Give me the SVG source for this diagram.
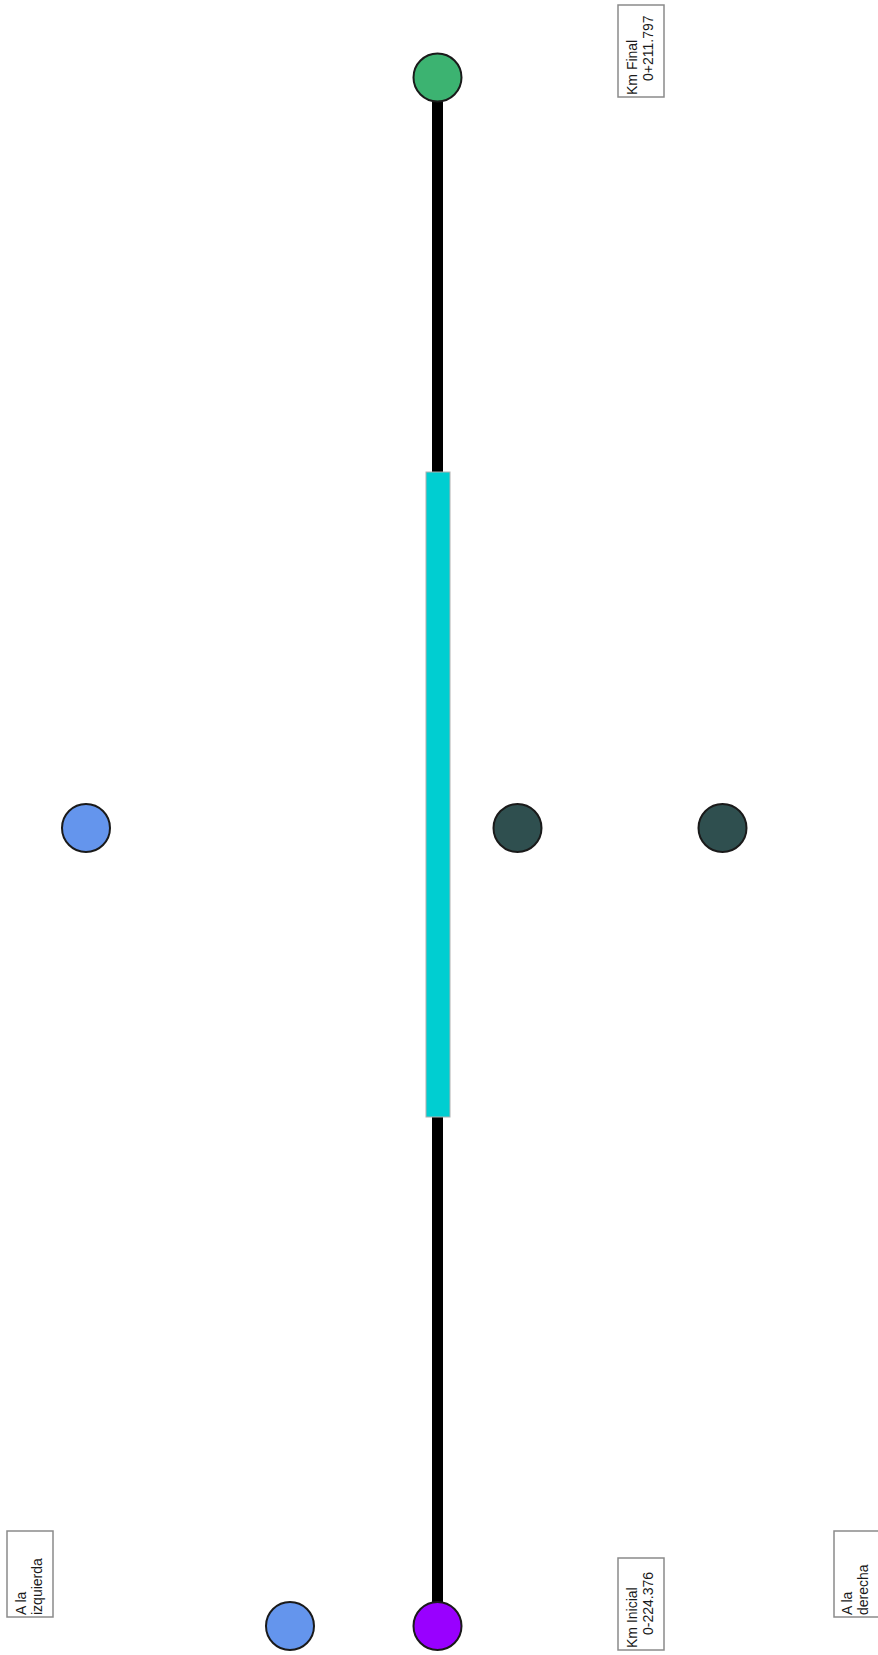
<svg xmlns="http://www.w3.org/2000/svg" width="878" height="1655" viewBox="0 0 878 1655">
<style>
.node{stroke:#1a1a1a;stroke-width:2}
.lbl{fill:#fff;stroke:#8a8a8a;stroke-width:1.5}
.t{font-family:"Liberation Sans",Arial,sans-serif;font-size:14px;fill:#1a1a1a}
</style>
<rect width="878" height="1655" fill="#fff"/>
<g id="connectors">
<line x1="437.5" y1="77" x2="437.5" y2="1626" stroke="#000" stroke-width="11"/>
</g>
<g id="segment">
<rect x="426" y="472" width="24" height="645" fill="#00CED1" stroke="#b0b0b0" stroke-width="1"/>
</g>
<g id="km-final-node"><circle class="node" cx="437.5" cy="77.5" r="24" fill="#3CB371"/></g>
<g id="km-inicial-node"><circle class="node" cx="437.5" cy="1626" r="24" fill="#9900FF"/></g>
<g id="left-legend-node"><circle class="node" cx="290" cy="1626" r="24" fill="#6495ED"/></g>
<g id="left-node"><circle class="node" cx="86" cy="828" r="24" fill="#6495ED"/></g>
<g id="mid-node"><circle class="node" cx="517.5" cy="828" r="24" fill="#2F4F4F"/></g>
<g id="right-node"><circle class="node" cx="722.5" cy="828" r="24" fill="#2F4F4F"/></g>
<g id="label-km-final">
<rect class="lbl" x="618" y="5" width="46" height="92"/>
<text class="t" transform="translate(637,95) rotate(-90)">Km Final</text>
<text class="t" transform="translate(653,81) rotate(-90)">0+211.797</text>
</g>
<g id="label-km-inicial">
<rect class="lbl" x="618" y="1558" width="46" height="92"/>
<text class="t" transform="translate(637,1648) rotate(-90)">Km Inicial</text>
<text class="t" transform="translate(653,1635) rotate(-90)">0-224.376</text>
</g>
<g id="label-izquierda">
<rect class="lbl" x="7" y="1531" width="46" height="86"/>
<text class="t" transform="translate(26,1615) rotate(-90)">A la</text>
<text class="t" transform="translate(42,1615) rotate(-90)">izquierda</text>
</g>
<g id="label-derecha">
<rect class="lbl" x="834" y="1531" width="46" height="86"/>
<text class="t" transform="translate(852,1615) rotate(-90)">A la</text>
<text class="t" transform="translate(868,1615) rotate(-90)">derecha</text>
</g>
</svg>
